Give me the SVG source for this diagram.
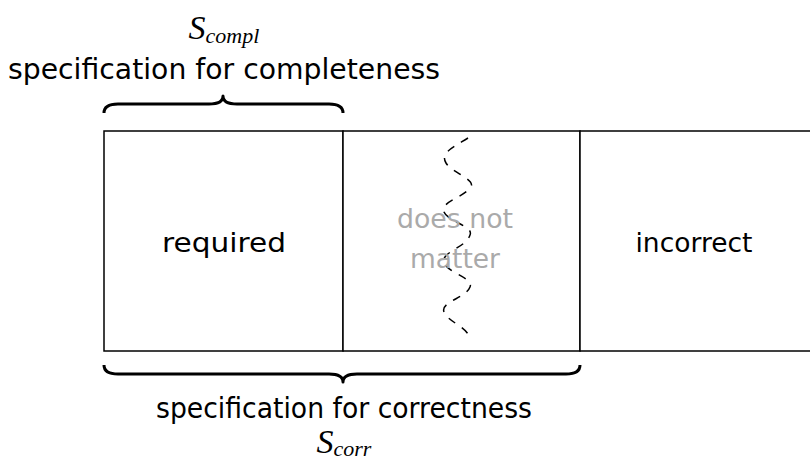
<svg xmlns="http://www.w3.org/2000/svg" width="810" height="466" viewBox="0 0 810 466">
  <style>
    .box { fill: #fff; stroke: #000; stroke-width: 1.5; }
    .lbl { font-family: "DejaVu Sans", "Liberation Sans", sans-serif; font-size: 26px; fill: #000; text-anchor: middle; }
    .big { font-size: 28px; }
    .grey { fill: #aaa; }
    .brace { fill: none; stroke: #000; stroke-width: 3; stroke-linejoin: round; }
    .math { font-family: "Liberation Serif", serif; font-style: italic; fill: #000; text-anchor: middle; }
    .wave { fill: none; stroke: #000; stroke-width: 1.5; stroke-dasharray: 8 8; }
  </style>

  <!-- three regions of the input space -->
  <g id="required">
    <rect class="box" x="104" y="131" width="239" height="220"/>
    <text class="lbl" x="224" y="252" textLength="124" lengthAdjust="spacingAndGlyphs">required</text>
  </g>
  <g id="doesnotmatter">
    <rect class="box" x="343" y="131" width="237" height="220"/>
    <path class="wave" d="M468,138 C452,148 440,153 446,163 C452,173 478,180 470,188 C462,198 440,202 444,212 C448,222 474,226 470,235 C466,248 440,252 444,263 C448,273 474,278 470,287 C466,298 440,302 444,312 C448,322 466,326 470,338"/>
    <text class="lbl grey" x="455" y="228" textLength="116" lengthAdjust="spacingAndGlyphs">does not</text>
    <text class="lbl grey" x="455" y="268" textLength="90" lengthAdjust="spacingAndGlyphs">matter</text>
  </g>
  <g id="incorrect">
    <rect class="box" x="580" y="131" width="240" height="220"/>
    <text class="lbl" x="694" y="252" textLength="117" lengthAdjust="spacingAndGlyphs">incorrect</text>
  </g>

  <!-- braces and their captions -->
  <g id="completeness">
    <path class="brace" d="M104,113 Q104,104 118,104 L209,104 Q223,104 223,96 Q223,104 237,104 L329,104 Q343,104 343,113"/>
    <text class="lbl big" x="224" y="79" textLength="432" lengthAdjust="spacingAndGlyphs">specification for completeness</text>
    <text class="math" x="224" y="39"><tspan font-size="34">S</tspan><tspan font-size="22" dy="4">compl</tspan></text>
  </g>
  <g id="correctness">
    <path class="brace" d="M104,365 Q104,374 118,374 L329,374 Q343,374 343,382 Q343,374 357,374 L566,374 Q580,374 580,365"/>
    <text class="lbl big" x="344" y="418" textLength="376" lengthAdjust="spacingAndGlyphs">specification for correctness</text>
    <text class="math" x="344" y="453"><tspan font-size="34">S</tspan><tspan font-size="22" dy="3">corr</tspan></text>
  </g>
</svg>
